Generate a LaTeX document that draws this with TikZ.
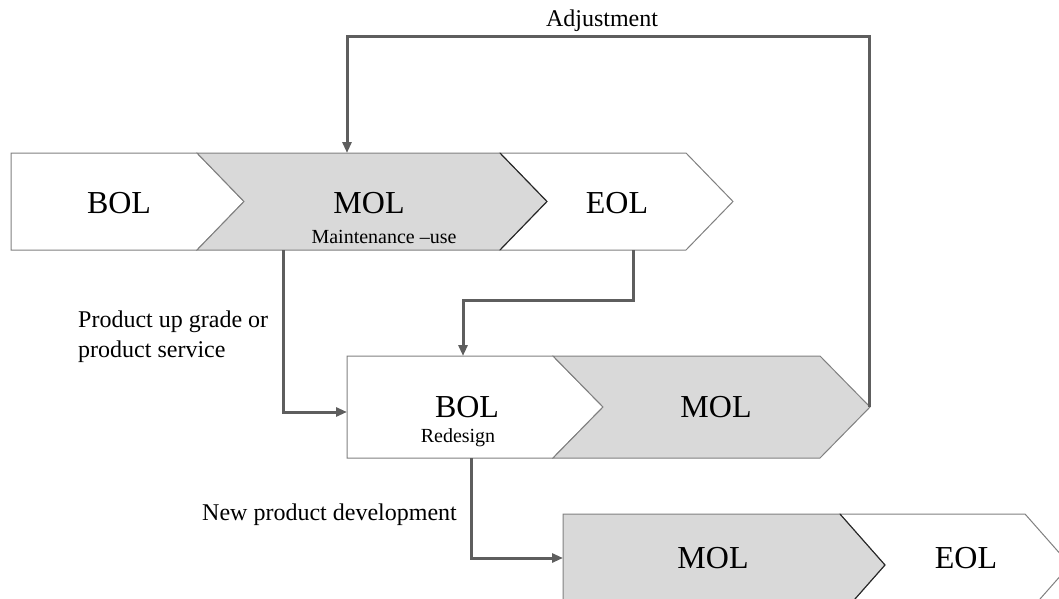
\documentclass[tikz,border=0pt]{standalone}
\usepackage{fontspec}
\setmainfont{Liberation Serif}
\usetikzlibrary{arrows.meta}
\definecolor{stagegray}{HTML}{D9D9D9}
\definecolor{edgegray}{HTML}{808080}
\definecolor{linkgray}{HTML}{5E5E5E}
\tikzstyle{stage} = [draw=edgegray, line width=1pt, fill=white]
\tikzstyle{midstage} = [stage, fill=stagegray]
\tikzstyle{tipedge} = [draw=black!85, line width=1pt]
\tikzstyle{phase} = [inner sep=0pt, font=\fontsize{32}{36}\selectfont]
\tikzstyle{sub} = [inner sep=0pt, font=\fontsize{20}{24}\selectfont]
\tikzstyle{note} = [inner sep=0pt, font=\fontsize{24}{30}\selectfont, align=left]
\tikzstyle{link} = [draw=linkgray, line width=3pt, -{Triangle[length=11pt,width=9pt]}]

\begin{document}
\begin{tikzpicture}[x=1pt,y=-1pt]
		\clip (0,0) rectangle (1059,599);
		\fill[white] (0,0) rectangle (1059,599);
		
		% first life cycle
		\draw[stage] (11,153) -- (197,153) -- (244,201.5) -- (197,250) -- (11,250) -- cycle;
		\draw[midstage] (197,153) -- (500,153) -- (547,201.5) -- (500,250) -- (197,250) -- (244,201.5) -- cycle;
		\draw[stage] (500,153) -- (686,153) -- (733,201.5) -- (686,250) -- (500,250) -- (547,201.5) -- cycle;
		\draw[tipedge] (500,153) -- (547,201.5) -- (500,250);
		
		% second life cycle
		\draw[stage] (347,356) -- (553,356) -- (603,407) -- (553,458) -- (347,458) -- cycle;
		\draw[midstage] (553,356) -- (820,356) -- (870,407) -- (820,458) -- (553,458) -- (603,407) -- cycle;
		
		% third life cycle
		\draw[midstage] (563,514) -- (840,514) -- (885,565) -- (840,616) -- (563,616) -- cycle;
		\draw[stage] (840,514) -- (1025,514) -- (1070,565) -- (1025,616) -- (840,616) -- (885,565) -- cycle;
		\draw[tipedge] (840,514) -- (885,565) -- (840,616);
		
		\node[phase] (bol1) at (119,203) {BOL};
		\node[phase] (mol1) at (369,203) {MOL};
		\node[sub, anchor=base] (use1) at (384,243) {Maintenance --use};
		\node[phase] (eol1) at (617,203) {EOL};
		
		\node[phase] (bol2) at (467,407) {BOL};
		\node[sub, anchor=base] (redesign) at (458,442) {Redesign};
		\node[phase] (mol2) at (716,407) {MOL};
		
		\node[phase] (mol3) at (713,558) {MOL};
		\node[phase] (eol3) at (966,558) {EOL};
		
		% connector ends
		\coordinate (mol1in) at (347,153);
		\coordinate (mol1out) at (283,250);
		\coordinate (eol1out) at (633,250);
		\coordinate (bol2top) at (463,356);
		\coordinate (bol2in) at (347,412);
		\coordinate (bol2out) at (471,458);
		\coordinate (mol2tip) at (869,407);
		\coordinate (mol3in) at (563,558);
		
		\node[note, anchor=base] (adj) at (602,27) {Adjustment};
		\coordinate (adjline) at (602,37);
		\node[note, anchor=north west] (upgrade) at (78,311) {Product up grade or\\product service};
		\node[note, anchor=base east] (newdev) at (457,520) {New product development};
		
		\draw[link] (mol2tip) |- (adjline) -| (mol1in);
		\draw[link] (mol1out) |- (bol2in);
		\draw[link] (eol1out) -- ++(0,50) -| (bol2top);
		\draw[link] (bol2out) |- (mol3in);
	\end{tikzpicture}
\end{document}
